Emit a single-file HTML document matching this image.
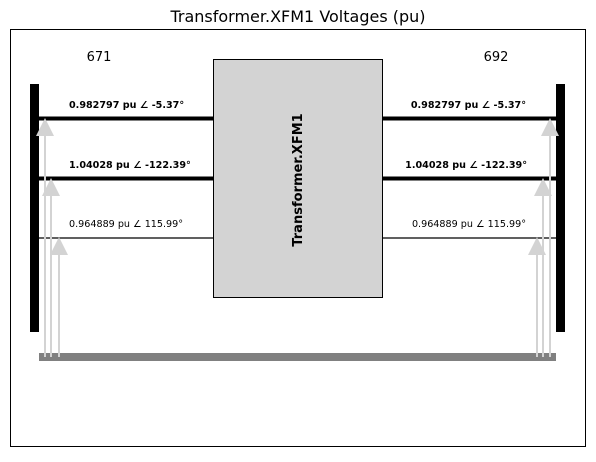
<!DOCTYPE html><html><head><style>body{margin:0;background:#fff}</style></head><body>
<svg width="596" height="457" xmlns="http://www.w3.org/2000/svg" font-family="DejaVu Sans, Liberation Sans, sans-serif">
<rect width="596" height="457" fill="#fff"/>
<text x="298" y="22" font-size="16" text-anchor="middle">Transformer.XFM1 Voltages (pu)</text>
<rect x="10.5" y="29.5" width="575" height="417" fill="none" stroke="#000" stroke-width="1"/>
<rect x="213.5" y="59.5" width="169" height="238" fill="#d3d3d3" stroke="#000" stroke-width="1"/>
<text transform="translate(302,180) rotate(-90)" font-size="13" font-weight="bold" text-anchor="middle">Transformer.XFM1</text>
<text x="99" y="61" font-size="13" text-anchor="middle">671</text>
<text x="496" y="61" font-size="13" text-anchor="middle">692</text>
<rect x="30" y="84" width="9" height="248" fill="#000"/>
<rect x="556" y="84" width="9" height="248" fill="#000"/>
<g stroke="#000">
<line x1="39" y1="118.5" x2="214" y2="118.5" stroke-width="4"/>
<line x1="39" y1="178.5" x2="214" y2="178.5" stroke-width="4"/>
<line x1="39" y1="238" x2="214" y2="238" stroke-width="1.3"/>
<line x1="382" y1="118.5" x2="556" y2="118.5" stroke-width="4"/>
<line x1="382" y1="178.5" x2="556" y2="178.5" stroke-width="4"/>
<line x1="382" y1="238" x2="556" y2="238" stroke-width="1.3"/>
</g>
<rect x="39" y="353" width="517" height="8" fill="#808080"/>
<g stroke="#d3d3d3" stroke-width="2">
<line x1="45" y1="357" x2="45" y2="130"/><line x1="51" y1="357" x2="51" y2="190"/><line x1="59" y1="357" x2="59" y2="250"/>
<line x1="550" y1="357" x2="550" y2="130"/><line x1="543" y1="357" x2="543" y2="190"/><line x1="537" y1="357" x2="537" y2="250"/>
</g>
<g fill="#d3d3d3">
<polygon points="45,118 36,136 54,136"/><polygon points="51,178 42,196 60,196"/><polygon points="59,237 50,255 68,255"/>
<polygon points="550,118 541,136 559,136"/><polygon points="543,178 534,196 552,196"/><polygon points="537,237 528,255 546,255"/>
</g>
<g font-size="9.6">
<text x="69" y="108" font-weight="bold">0.982797 pu ∠ -5.37°</text>
<text x="69" y="168" font-weight="bold">1.04028 pu ∠ -122.39°</text>
<text x="69" y="227">0.964889 pu ∠ 115.99°</text>
<text x="526" y="108" font-weight="bold" text-anchor="end">0.982797 pu ∠ -5.37°</text>
<text x="527" y="168" font-weight="bold" text-anchor="end">1.04028 pu ∠ -122.39°</text>
<text x="526" y="227" text-anchor="end">0.964889 pu ∠ 115.99°</text>
</g>
</svg></body></html>
